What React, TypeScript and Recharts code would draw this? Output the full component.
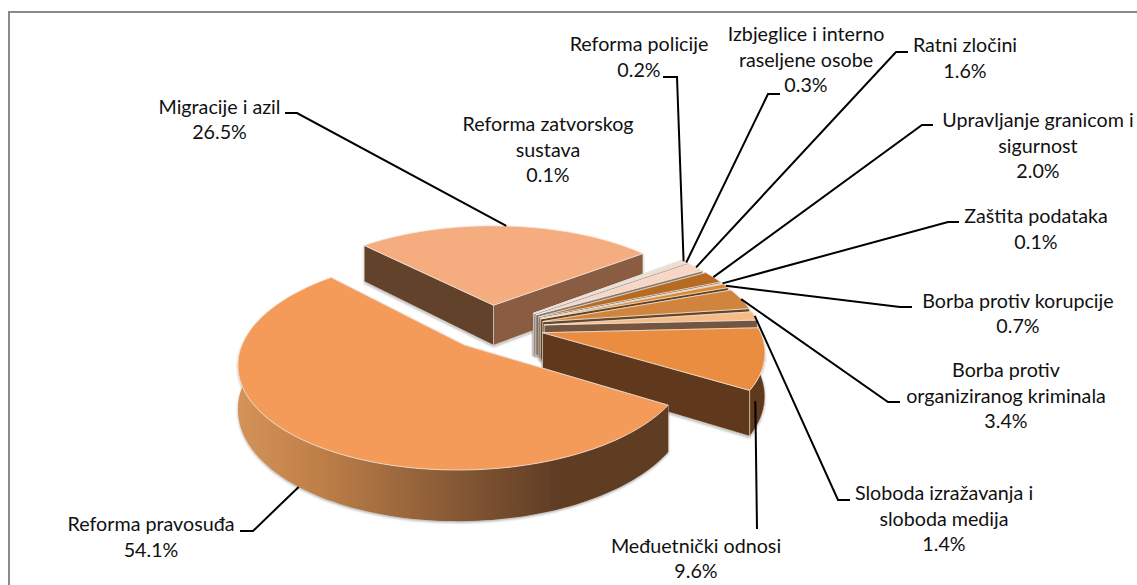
import React from "react";
import { PieChart, Pie } from "recharts";

const categories = ["Migracije i azil","Reforma zatvorskog sustava","Reforma policije","Izbjeglice i interno raseljene osobe","Ratni zločini","Upravljanje granicom i sigurnost","Zaštita podataka","Borba protiv korupcije","Borba protiv organiziranog kriminala","Sloboda izražavanja i sloboda medija","Međuetnički odnosi","Reforma pravosuđa"];
const values = [26.5,0.1,0.2,0.3,1.6,2.0,0.1,0.7,3.4,1.4,9.6,54.1];
const topColors = ["#F5AD7F","#F8C9AC","#FBE0D0","#F9D6C4","#F9D6C4","#B76A24","#F7C9A0","#D98936","#D0843C","#F6BC88","#EA8D3F","#F49B5A"];
const wallColors = ["#624229","#6b5a50","#75655b","#7a6a60","#7a6a60","#5a3a1e","#6b4a30","#5a3512","#5c3a1c","#65452E","#60381A","#5F3C24"];
const wallColorsAlt = ["#8A5D42","#8a7a70","#8a7a70","#8a7a70","#8a7a70","#6a4622","#7a5a40","#6a4018","#6a4622","#75553E","#60381A","#5F3C24"];
const labelLines = [["Migracije i azil","26.5%"],["Reforma zatvorskog","sustava","0.1%"],["Reforma policije","0.2%"],["Izbjeglice i interno","raseljene osobe","0.3%"],["Ratni zločini","1.6%"],["Upravljanje granicom i","sigurnost","2.0%"],["Zaštita podataka","0.1%"],["Borba protiv korupcije","0.7%"],["Borba protiv","organiziranog kriminala","3.4%"],["Sloboda izražavanja i","sloboda medija","1.4%"],["Međuetnički odnosi","9.6%"],["Reforma pravosuđa","54.1%"]];
const labelCenterX = [219.5,548,639,806,965,1038,1036,1018,1006,944,696,151];
const labelFirstY = [113.5,131,51,41,52,127,223,307.5,377,500,552.7,531];
const elbows: (number[][] | null)[] = [
  [[285,113],[297,113]], null, [[663,77],[677,77]], [[780,94],[768,94]], [[908,52],[896,52]],
  [[933,125],[922,125]], [[959,222],[948,222]], [[912,307],[900,307]], [[900,402],[888,402]],
  [[850,500],[838,500]], [[757,529]], [[240,531],[253,531]],
];
const anchorRadius = [1,1,1,1,1,1,1,1,1,1,0.96,1];
const sliceNudgeX = [-5,0,0,0,0,0,0,0,0,0,-1,1.5];

const FONT = "Lato, Carlito, 'Open Sans', sans-serif";
const PX = { ox: 495, oy: 327, R: 216, Rs: 98.5, k: 0.16, e: 0.23, depth: 41.5 };
const rad = (d: number) => (d * Math.PI) / 180;
// Recharts angle (ccw from 3 o'clock) -> perspective point of the exploded slice
function proj(angle: number, r: number, mid: number, index: number, down = false) {
  const U = Math.cos(rad(mid)) * PX.e + r * Math.cos(rad(angle));
  const V = -Math.sin(rad(mid)) * PX.e - r * Math.sin(rad(angle));
  const w = 1 - PX.k * V;
  return { x: PX.ox + sliceNudgeX[index] + (PX.R * U) / w, y: PX.oy + (PX.Rs * V) / w + (down ? PX.depth / w : 0), v: V };
}
const d = (pts: { x: number; y: number }[]) => "M" + pts.map((p) => `${p.x.toFixed(2)},${p.y.toFixed(2)}`).join("L") + "Z";

function Slice(props: any) {
  const { startAngle, endAngle, index } = props;
  const mid = (startAngle + endAngle) / 2;
  const n = Math.max(2, Math.ceil(Math.abs(endAngle - startAngle) / 1.5));
  const arc: number[] = [];
  for (let i = 0; i <= n; i++) arc.push(startAngle + ((endAngle - startAngle) * i) / n);
  const apex = proj(mid, 0, mid, index), apexB = proj(mid, 0, mid, index, true);
  const top = [apex, ...arc.map((a) => proj(a, 1, mid, index))];
  const a0 = proj(startAngle, 1, mid, index), a0B = proj(startAngle, 1, mid, index, true);
  const a1 = proj(endAngle, 1, mid, index), a1B = proj(endAngle, 1, mid, index, true);
  const front = arc.filter((a) => Math.sin(rad(a)) < 0.02);
  const edgeStroke = { stroke: "#DDD5CF", strokeWidth: 0.6, strokeLinejoin: "round" as const };
  const isBig = index === 11;
  let rim: React.ReactNode = null;
  if (front.length > 1) {
    const t = front.map((a) => proj(a, 1, mid, index));
    const b = front.map((a) => proj(a, 1, mid, index, true));
    rim = <path d={d([...t, ...b.reverse()])} fill={isBig ? "url(#bigWall)" : wallColors[index]} {...(isBig ? {} : edgeStroke)} />;
  }
  return (
    <g filter="url(#soft)">
      <path d={d([apex, a0, a0B, apexB])} fill={wallColors[index]} {...edgeStroke} />
      <path d={d([apex, a1, a1B, apexB])} fill={index === 10 ? wallColors[index] : wallColorsAlt[index]} {...edgeStroke} />
      {rim}
      <path d={d(top)} fill={topColors[index]} stroke="#F3EEE8" strokeWidth={0.7} strokeLinejoin="round" />
    </g>
  );
}

function SliceLabel(props: any) {
  const { index, startAngle, endAngle } = props;
  const mid = (startAngle + endAngle) / 2;
  const onWall = index === 10 || index === 11;
  const p = proj(mid, anchorRadius[index], mid, index, onWall);
  const el = elbows[index];
  return (
    <g>
      {el && (
        <polyline points={[...el, [p.x, p.y]].map((q) => q.join(",")).join(" ")} fill="none" stroke="#000" strokeWidth={2} />
      )}
      <text textAnchor="middle" fontFamily={FONT} fontSize={19.7} fill="#111">
        {labelLines[index].map((line, i) => (
          <tspan key={i} x={labelCenterX[index]} y={labelFirstY[index] + i * 25.7}>{line}</tspan>
        ))}
      </text>
    </g>
  );
}

const table = categories.map((name, i) => ({ name, value: values[i] }));

export default function App() {
  return (
    <div style={{ position: "absolute", left: 0, top: 0, width: 1137, height: 585, background: "#fff", overflow: "hidden" }}>
      <div style={{ position: "absolute", left: 8, top: 11, width: 1200, height: 620, border: "2px solid #8a8a8a", boxSizing: "border-box" }} />
      <div style={{ position: "absolute", left: 0, top: 0 }}>
        <PieChart width={1137} height={585} margin={{ top: 0, right: 0, bottom: 0, left: 0 }}>
          <defs>
            <linearGradient id="bigWall" gradientUnits="userSpaceOnUse" x1={240} x2={560} y1={0} y2={0}>
              <stop offset="0" stopColor="#D49257" />
              <stop offset="0.25" stopColor="#BE7F48" />
              <stop offset="0.6" stopColor="#8F5F39" />
              <stop offset="1" stopColor="#5F3C24" />
            </linearGradient>
            <filter id="soft" x="-10%" y="-10%" width="120%" height="120%">
              <feDropShadow dx={0} dy={1.5} stdDeviation={1} floodColor="#000" floodOpacity={0.3} />
            </filter>
          </defs>
          <Pie
            data={table}
            dataKey="value"
            nameKey="name"
            cx={495}
            cy={327}
            outerRadius={216}
            startAngle={-226.5}
            endAngle={-586.5}
            paddingAngle={0}
            stroke="none"
            shape={Slice}
            label={SliceLabel}
            labelLine={false}
            isAnimationActive={false}
          />
        </PieChart>
      </div>
    </div>
  );
}
